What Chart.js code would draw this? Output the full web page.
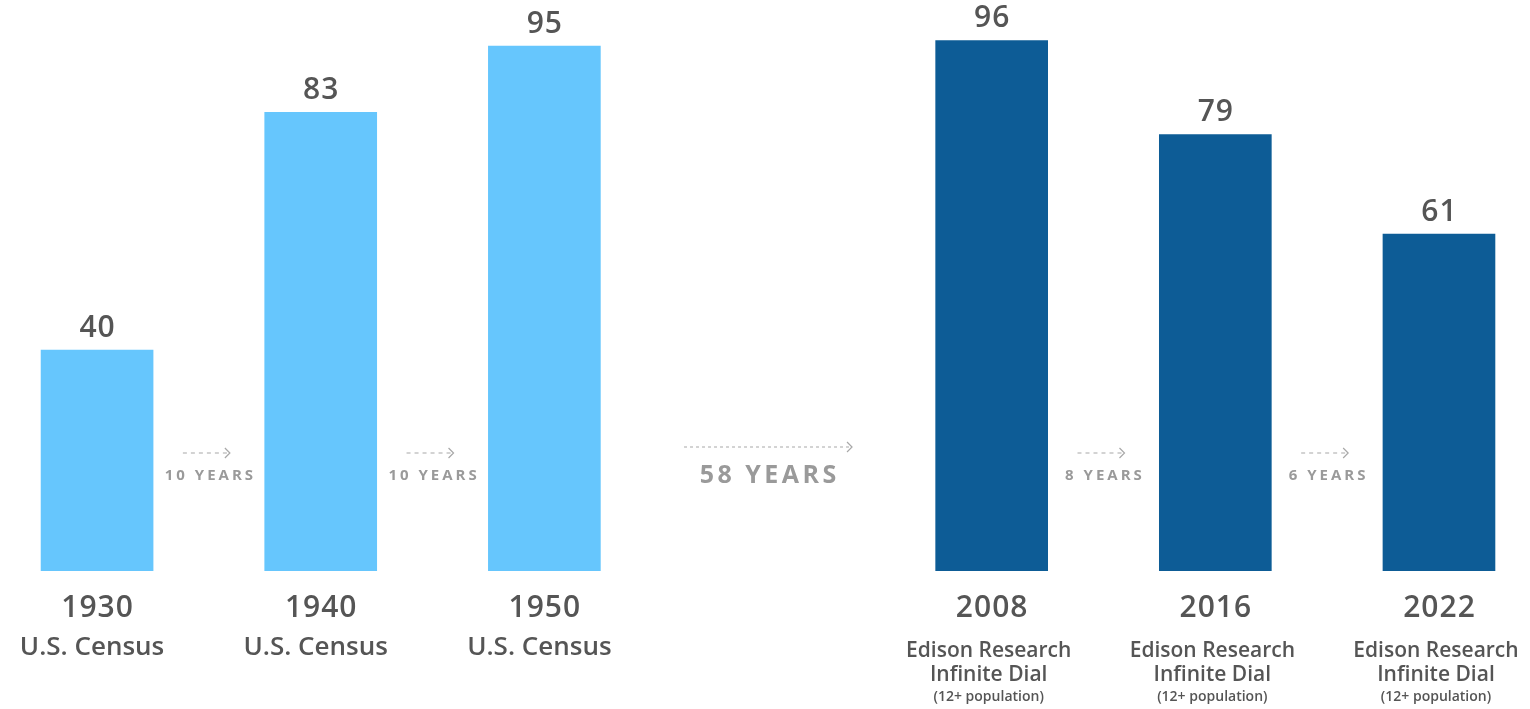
<!DOCTYPE html>
<html>
<head>
<meta charset="utf-8">
<script src="https://cdn.jsdelivr.net/npm/chart.js@4"></script>
<style>
  html, body { margin: 0; padding: 0; background: #fff; }
  #wrap { position: relative; width: 1530px; height: 709px; }
</style>
</head>
<body>
<div id="wrap"><canvas id="chart" width="1530" height="709"></canvas></div>
<script>
// --- data ---
const years = ['1930', '1940', '1950', '2008', '2016', '2022'];
const slots = [0, 1, 2, 4, 5, 6];               // slot 3 left empty for the 58-year gap
const values = [40, 83, 95, 96, 79, 61];
const sources = [
  ['U.S. Census'], ['U.S. Census'], ['U.S. Census'],
  ['Edison Research', 'Infinite Dial', '(12+ population)'],
  ['Edison Research', 'Infinite Dial', '(12+ population)'],
  ['Edison Research', 'Infinite Dial', '(12+ population)']
];
const barColors = ['#66c6fd', '#66c6fd', '#66c6fd', '#0d5c96', '#0d5c96', '#0d5c96'];
const gapLabels = ['10 YEARS', '10 YEARS', '58 YEARS', '8 YEARS', '6 YEARS'];
const gapSlots = [0.5, 1.5, 3, 4.5, 5.5];

const FONT = "'Open Sans', 'Noto Sans', sans-serif";
const TEXT = '#555555';
const GAP_TEXT = '#9a9a9a';

const labelsPlugin = {
  id: 'labels',
  afterDatasetsDraw(chart) {
    const ctx = chart.ctx;
    const x = chart.scales.x, y = chart.scales.y;
    ctx.save();
    ctx.textAlign = 'center';
    ctx.textBaseline = 'middle';

    // values above bars + years / sources below
    values.forEach((v, i) => {
      const cx = x.getPixelForValue(slots[i]);
      const top = y.getPixelForValue(v);
      ctx.fillStyle = TEXT;
      ctx.font = `600 30px ${FONT}`;
      ctx.letterSpacing = '1px';
      ctx.fillText(String(v), cx + 0.5, top - 22);
      ctx.fillText(years[i], cx + 0.5, 608);
      ctx.letterSpacing = '0px';
      const src = sources[i];
      if (src.length === 1) {
        ctx.font = `600 26px ${FONT}`;
        ctx.fillText(src[0], cx - 5, 648);
      } else {
        ctx.font = `600 21px ${FONT}`;
        ctx.fillText(src[0], cx - 3, 651);
        ctx.fillText(src[1], cx - 3, 675);
        ctx.font = `600 14px ${FONT}`;
        ctx.fillText(src[2], cx - 3, 697);
      }
    });

    // gap arrows with "N YEARS"
    gapLabels.forEach((lab, i) => {
      const cx = x.getPixelForValue(gapSlots[i]);
      const big = lab.startsWith('58');
      const x0 = big ? cx - 84 : cx - 26;
      const x1 = big ? cx + 84 : cx + 21;
      const ay = big ? 447 : 453;
      ctx.strokeStyle = '#a8a8a8';
      ctx.lineWidth = 1.2;
      ctx.setLineDash(big ? [3, 3] : [4, 4]);
      ctx.beginPath();
      ctx.moveTo(x0, ay);
      ctx.lineTo(x1 - 2, ay);
      ctx.stroke();
      ctx.setLineDash([]);
      ctx.beginPath();
      ctx.moveTo(x1 - 5, ay - 5);
      ctx.lineTo(x1, ay);
      ctx.lineTo(x1 - 5, ay + 5);
      ctx.stroke();

      ctx.fillStyle = GAP_TEXT;
      ctx.font = big ? `700 25px ${FONT}` : `700 15px ${FONT}`;
      ctx.letterSpacing = big ? '3.5px' : '3px';
      ctx.fillText(lab, cx + (big ? 1.75 : 1.5), 476);
      ctx.letterSpacing = '0px';
    });
    ctx.restore();
  }
};

new Chart(document.getElementById('chart').getContext('2d'), {
  type: 'bar',
  data: {
    datasets: [{
      data: values.map((v, i) => ({ x: slots[i], y: v })),
      backgroundColor: barColors,
      borderWidth: 0,
      barThickness: 112
    }]
  },
  options: {
    responsive: false,
    animation: false,
    devicePixelRatio: 1,
    layout: { padding: { top: 0, bottom: 138, left: 0, right: 0 } },
    plugins: { legend: { display: false }, tooltip: { enabled: false } },
    scales: {
      x: { type: 'linear', min: -0.434, max: 6.407, display: false, offset: false },
      y: { min: 0, max: 103.35, display: false }
    }
  },
  plugins: [labelsPlugin]
});
</script>
</body>
</html>
